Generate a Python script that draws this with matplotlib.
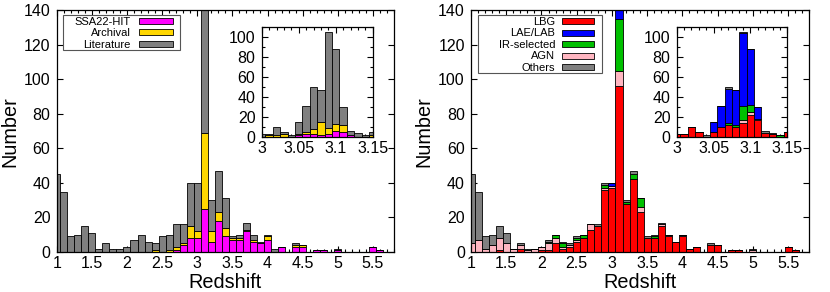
import numpy as np
import matplotlib
matplotlib.use('Agg')
import matplotlib.pyplot as plt
from matplotlib.patches import Rectangle
from matplotlib.ticker import MultipleLocator, FuncFormatter

plt.rcParams['font.family'] = ['Liberation Sans', 'DejaVu Sans']

# ---------------- data ----------------
# main histogram bin centres (bin width 0.1)
z_main = np.round(np.arange(1.0, 5.75, 0.1), 2)
# inset histogram bin centres (bin width 0.01)
z_zoom = np.round(np.arange(3.00, 3.155, 0.01), 2)

# left panel: by survey
ssa22_main = [0, 0, 0, 0, 0, 0, 0, 0, 0, 0,
              0, 0, 0, 0, 0, 0, 0, 1, 4, 8,
              8, 25, 6, 18, 9, 7, 7, 12, 6, 5,
              7, 0, 3, 0, 3, 3, 0, 1, 1, 0,
              1, 0, 0, 0, 0, 3, 1, 0]
archival_main = [0, 0, 0, 0, 0, 0, 0, 0, 0, 0,
                 0, 0, 0, 0, 1, 0, 1, 2, 1, 7,
                 4, 44, 6, 5, 5, 1, 1, 1, 1, 0,
                 2, 0, 0, 0, 1, 1, 0, 0, 0, 0,
                 0, 0, 0, 0, 0, 0, 0, 0]
literature_main = [45, 35, 9, 10, 15, 11, 2, 5, 2, 2,
                   3, 7, 10, 6, 4, 9, 9, 13, 11, 25,
                   28, 309, 18, 24, 17, 1, 2, 4, 3, 1,
                   1, 2, 0, 0, 1, 0, 0, 0, 0, 0,
                   1, 0, 0, 0, 0, 0, 0, 0]

ssa22_zoom = [0, 0, 0, 0, 0, 2, 3, 3, 2, 3, 6, 5, 2, 0, 0, 0]
archival_zoom = [0, 2, 2, 3, 0, 1, 2, 5, 13, 6, 7, 7, 0, 0, 0, 2]
literature_zoom = [3, 1, 8, 2, 2, 12, 26, 42, 32, 96, 75, 18, 4, 4, 2, 3]

# right panel: by selection
lbg_main = [0, 0, 0, 0, 1, 0, 0, 2, 0, 0,
            1, 1, 5, 2, 3, 6, 8, 13, 15, 36,
            37, 96, 28, 42, 23, 8, 8, 15, 9, 6,
            9, 2, 3, 0, 4, 4, 0, 1, 1, 0,
            0, 0, 0, 0, 0, 3, 1, 0]
agn_main = [5, 7, 2, 4, 7, 5, 2, 2, 1, 2,
            2, 4, 3, 1, 1, 1, 0, 3, 0, 1,
            1, 9, 0, 0, 3, 0, 0, 1, 1, 0,
            1, 0, 0, 0, 0, 0, 0, 0, 0, 0,
            1, 0, 0, 0, 0, 0, 0, 0]
ir_main = [0, 0, 0, 0, 0, 0, 0, 0, 0, 0,
           0, 1, 2, 2, 0, 1, 2, 0, 0, 2,
           0, 30, 1, 3, 5, 0, 1, 0, 0, 0,
           0, 0, 0, 0, 0, 0, 0, 0, 0, 0,
           0, 0, 0, 0, 0, 0, 0, 0]
lae_main = [0, 0, 0, 0, 0, 0, 0, 0, 0, 0,
            0, 0, 0, 0, 0, 0, 0, 0, 0, 0,
            2, 243, 0, 0, 0, 0, 0, 0, 0, 0,
            0, 0, 0, 0, 0, 0, 0, 0, 0, 0,
            0, 0, 0, 0, 0, 0, 0, 0]
others_main = [40, 28, 7, 6, 7, 6, 0, 1, 1, 0,
               0, 1, 0, 1, 1, 1, 0, 0, 1, 1,
               0, 0, 1, 2, 0, 1, 1, 1, 0, 0,
               0, 0, 0, 0, 1, 0, 0, 0, 0, 0,
               1, 0, 0, 0, 0, 0, 0, 0]

lbg_zoom = [3, 3, 10, 5, 0, 5, 10, 12, 10, 14, 22, 17, 4, 3, 0, 5]
agn_zoom = [0, 0, 0, 0, 0, 0, 0, 0, 0, 3, 3, 1, 0, 0, 0, 0]
ir_zoom = [0, 0, 0, 0, 0, 0, 0, 2, 2, 14, 7, 0, 0, 0, 2, 0]
lae_zoom = [0, 0, 0, 0, 0, 10, 21, 34, 35, 73, 56, 12, 0, 0, 0, 0]
others_zoom = [0, 0, 0, 0, 2, 0, 0, 2, 0, 1, 0, 0, 2, 1, 0, 0]

left_labels = ['SSA22-HIT', 'Archival', 'Literature']
left_colors = ['#ff00ff', '#ffd700', '#808080']
right_labels = ['LBG', 'LAE/LAB', 'IR-selected', 'AGN', 'Others']
right_colors = ['#ff0000', '#0000ff', '#00c000', '#ffb6c1', '#808080']

# ---------------- figure ----------------
W, H = 830, 292
fig = plt.figure(figsize=(W / 100, H / 100), dpi=100)


def fx(px):
    return px / W


def fy(py):
    return 1 - py / H


def box(x0, x1, y_top, y_bot):
    return [fx(x0), fy(y_bot), fx(x1) - fx(x0), fy(y_top) - fy(y_bot)]


fmt = FuncFormatter(lambda v, p: '%g' % round(v, 3))
TICK_FS = 11.5
LAB_FS = 14.3


def stacked(ax, x, comps, colors, width):
    bottom = np.zeros(len(x))
    for vals, c in zip(comps, colors):
        vals = np.asarray(vals, float)
        ax.bar(x, vals, width=width, bottom=bottom, color=c,
               edgecolor='black', linewidth=0.6, align='center', zorder=2)
        bottom += vals


def style(ax, xmaj, xmin, ymaj, ymin=None):
    ax.xaxis.set_major_locator(MultipleLocator(xmaj))
    ax.xaxis.set_minor_locator(MultipleLocator(xmin))
    ax.yaxis.set_major_locator(MultipleLocator(ymaj))
    if ymin:
        ax.yaxis.set_minor_locator(MultipleLocator(ymin))
    ax.xaxis.set_major_formatter(fmt)
    ax.yaxis.set_major_formatter(fmt)
    ax.tick_params(which='both', direction='in', top=True, right=True,
                   width=0.8, labelsize=TICK_FS, zorder=5)
    ax.tick_params(which='major', length=4)
    ax.tick_params(which='minor', length=2)
    ax.tick_params(axis='x', pad=3)
    ax.tick_params(axis='y', pad=4.5)
    for s in ax.spines.values():
        s.set_linewidth(0.9)
        s.set_zorder(6)


def legend(ax, labels, colors, frame, rows, text_right, sw_x0, sw_x1):
    x0, x1, y0, y1 = frame
    ax.add_patch(Rectangle((fx(x0), fy(y1)), fx(x1) - fx(x0), fy(y0) - fy(y1),
                           transform=fig.transFigure, facecolor='white',
                           edgecolor='#555555', linewidth=0.8, zorder=7,
                           clip_on=False))
    for lab, col, yc in zip(labels, colors, rows):
        ax.add_patch(Rectangle((fx(sw_x0), fy(yc + 3)), fx(sw_x1) - fx(sw_x0),
                               fy(yc - 3) - fy(yc + 3),
                               transform=fig.transFigure, facecolor=col,
                               edgecolor='black', linewidth=0.6, zorder=8,
                               clip_on=False))
        ax.text(fx(text_right), fy(yc + 3.9), lab, transform=fig.transFigure,
                ha='right', va='baseline', fontsize=8, zorder=8)


# ---- left panel ----
axL = fig.add_axes(box(56.7, 394, 10.3, 252))
stacked(axL, z_main, [ssa22_main, archival_main, literature_main], left_colors, 0.1)
axL.set_xlim(1.0, 5.8)
axL.set_ylim(0, 140)
style(axL, 0.5, 0.1, 20)
axL.set_xlabel('Redshift', fontsize=LAB_FS, labelpad=1)
axL.set_ylabel('Number', fontsize=LAB_FS, labelpad=3)
legend(axL, left_labels, left_colors, (63, 180, 15, 50),
       [20.7, 32.3, 44.0], 131, 139.3, 172.7)

axLi = fig.add_axes(box(261.7, 372.7, 26.7, 137.3))
stacked(axLi, z_zoom, [ssa22_zoom, archival_zoom, literature_zoom], left_colors, 0.01)
axLi.set_xlim(3.0, 3.15)
axLi.set_ylim(0, 110)
style(axLi, 0.05, 0.01, 20, 10)

# ---- right panel ----
axR = fig.add_axes(box(471, 809.3, 10.3, 252))
stacked(axR, z_main, [lbg_main, agn_main, ir_main, lae_main, others_main],
        ['#ff0000', '#ffb6c1', '#00c000', '#0000ff', '#808080'], 0.1)
axR.set_xlim(1.0, 5.8)
axR.set_ylim(0, 140)
style(axR, 0.5, 0.1, 20)
axR.set_xlabel('Redshift', fontsize=LAB_FS, labelpad=1)
axR.set_ylabel('Number', fontsize=LAB_FS, labelpad=3)
legend(axR, right_labels, right_colors, (478.3, 601.7, 15, 72.7),
       [21.0, 32.5, 44.0, 55.5, 67.0], 555, 561.7, 594.3)

axRi = fig.add_axes(box(676.7, 787.3, 26.7, 137.3))
stacked(axRi, z_zoom, [lbg_zoom, agn_zoom, ir_zoom, lae_zoom, others_zoom],
        ['#ff0000', '#ffb6c1', '#00c000', '#0000ff', '#808080'], 0.01)
axRi.set_xlim(3.0, 3.15)
axRi.set_ylim(0, 110)
style(axRi, 0.05, 0.01, 20, 10)

fig.savefig('out.png', dpi=100)
